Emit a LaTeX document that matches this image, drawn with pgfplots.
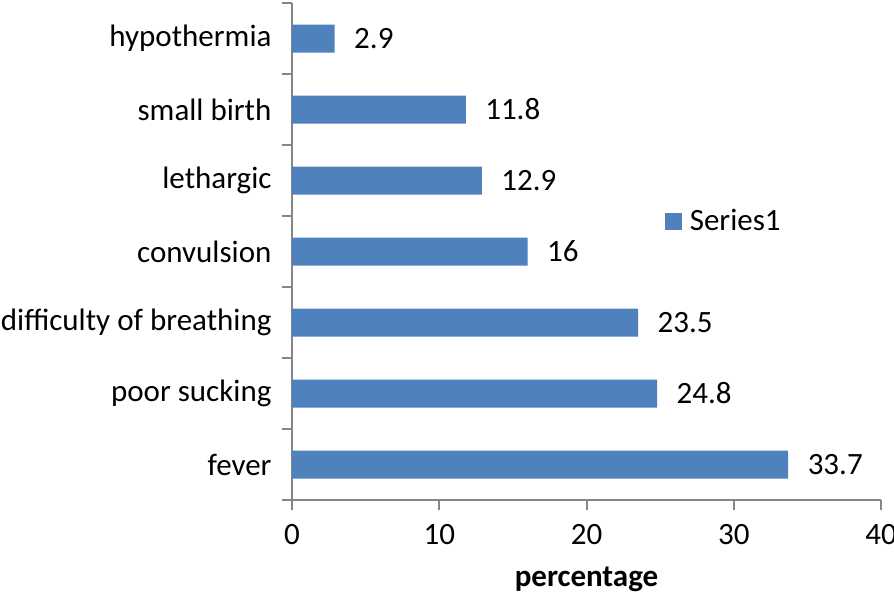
\documentclass[border=0pt]{standalone}
\usepackage{fontspec}
\setmainfont{Carlito}
\usepackage{pgfplots}
\pgfplotsset{compat=1.18}
\definecolor{barblue}{HTML}{4F81BD}
\definecolor{axgray}{HTML}{868686}
\newcommand{\fs}{\fontsize{31}{37}\selectfont}
\begin{document}
\fs
\begin{tikzpicture}
\useasboundingbox (0,0) rectangle (894pt,595pt);
\begin{axis}[
  at={(292pt,95pt)}, anchor=south west,
  scale only axis, width=589pt, height=497pt,
  xbar, bar width=28pt,
  xmin=0, xmax=40, xtick={0,10,20,30,40},
  ymin=-0.5, ymax=6.5,
  ytick={0,...,6},
  yticklabels={fever, poor sucking, difficulty of breathing, convulsion, lethargic, small birth, hypothermia},
  minor ytick={-0.5,0.5,...,6.5},
  axis x line*=bottom, axis y line*=left,
  axis line style={draw=axgray, line width=2pt},
  tick align=outside,
  major tick length=10pt, minor tick length=10pt,
  major y tick style={draw=none},
  every tick/.style={draw=axgray, line width=2pt},
  minor y tick style={draw=axgray, line width=2pt},
  major x tick style={draw=axgray, line width=2pt},
  tick label style={font=\fs},
  xticklabel style={yshift=-4pt},
  /pgf/number format/assume math mode=true,
  xlabel={percentage},
  xlabel style={font=\fs\bfseries, yshift=-1pt},
  nodes near coords,
  nodes near coords style={anchor=west, xshift=9pt, font=\fs, /pgf/number format/assume math mode=true},
  legend style={at={(axis cs:25.1,3.42)}, anchor=west, draw=none, fill=none, font=\fs,
    /tikz/every odd column/.append style={column sep=6pt}},
  legend image code/.code={\fill[barblue] (0pt,-8.5pt) rectangle (17pt,8.5pt);},
]
\addplot[fill=barblue, draw=none] coordinates {
  (33.7,0) (24.8,1) (23.5,2) (16,3) (12.9,4) (11.8,5) (2.9,6)
};
\addlegendentry{Series1}
\end{axis}
\end{tikzpicture}
\end{document}
